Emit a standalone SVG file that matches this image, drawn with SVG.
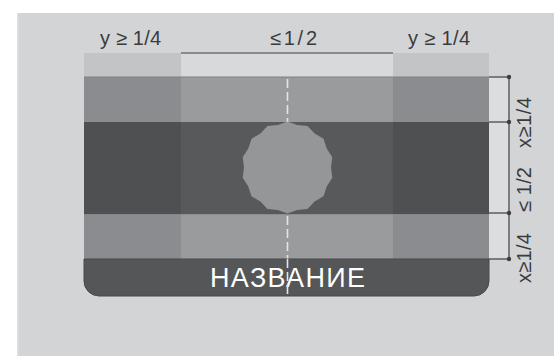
<svg xmlns="http://www.w3.org/2000/svg" width="554" height="356" viewBox="0 0 554 356">
<style>
.lbl{font-family:"Liberation Sans",Arial,sans-serif;font-size:20px;fill:#3a3b3d}
.ttl{font-family:"Liberation Sans",Arial,sans-serif;font-size:27px;fill:#ffffff}
.dim{stroke:#3d3e40;stroke-width:1.2;fill:none}
.dash{stroke:#e4e5e6;stroke-width:1.6;stroke-dasharray:9 4;fill:none}
</style>
<rect x="0" y="0" width="554" height="356" fill="#ffffff"/>
<rect x="17" y="13" width="537" height="343" fill="#d3d4d6"/>
<rect x="17" y="13" width="1.5" height="343" fill="#dedfe0"/>
<g id="sign">
  <rect x="84" y="53" width="97" height="24" fill="#c3c4c6"/>
  <rect x="181" y="53" width="212" height="24" fill="#d8d9db"/>
  <rect x="393" y="53" width="96" height="24" fill="#c3c4c6"/>
  <rect x="84" y="77" width="97" height="45" fill="#8b8c8f"/>
  <rect x="181" y="77" width="212" height="45" fill="#9a9b9d"/>
  <rect x="393" y="77" width="96" height="45" fill="#8b8c8f"/>
  <rect x="84" y="214" width="97" height="45" fill="#8b8c8f"/>
  <rect x="181" y="214" width="212" height="45" fill="#9a9b9d"/>
  <rect x="393" y="214" width="96" height="45" fill="#8b8c8f"/>
  <line x1="84" y1="77" x2="489" y2="77" stroke="#7f8287" stroke-width="1"/>
  <line x1="84" y1="214" x2="489" y2="214" stroke="#7f8287" stroke-width="1"/>
  <line class="dash" x1="287.5" y1="79" x2="287.5" y2="122"/>
  <line class="dash" x1="287.5" y1="216" x2="287.5" y2="296"/>
</g>
<g id="middle-band">
  <rect x="84" y="122" width="97" height="92" fill="#4f5052"/>
  <rect x="181" y="122" width="212" height="92" fill="#58595b"/>
  <rect x="393" y="122" width="96" height="92" fill="#4f5052"/>
</g>
<g id="emblem">
  <polygon fill="#959698" points="287.5,121.5 297.2,125.1 307.5,126.1 314.6,133.5 323.5,138.8 326.7,148.6 332.3,157.3 331,167.5 332.3,177.7 326.7,186.4 323.5,196.2 314.6,201.5 307.5,208.9 297.2,209.9 287.5,213.5 277.8,209.9 267.5,208.9 260.4,201.5 251.5,196.2 248.3,186.4 242.7,177.7 244,167.5 242.7,157.3 248.3,148.6 251.5,138.8 260.4,133.5 267.5,126.1 277.8,125.1"/>
</g>
<g id="title-bar">
  <path d="M84,259 H489 V281 A15,15 0 0 1 474,296 H99 A15,15 0 0 1 84,281 Z" fill="#555658" stroke="#47484a" stroke-width="1"/>
  <text class="ttl" x="210" y="287" textLength="155" lengthAdjust="spacing">НАЗВАНИЕ</text>
  <line class="dash" x1="287.5" y1="259" x2="287.5" y2="294"/>
</g>
<g id="connectors">
  <rect x="489" y="77" width="20" height="182" fill="#dcdddf"/>
  <line class="dim" x1="181" y1="53" x2="393" y2="53"/>
  <line class="dim" x1="509" y1="77" x2="509" y2="259"/>
  <line class="dim" x1="489" y1="77" x2="509" y2="77"/>
  <line class="dim" x1="489" y1="122" x2="509" y2="122"/>
  <line class="dim" x1="489" y1="213" x2="509" y2="213"/>
  <line class="dim" x1="489" y1="259" x2="509" y2="259"/>
  <circle cx="509" cy="77" r="2.2" fill="#3d3e40"/>
  <circle cx="509" cy="122" r="2.2" fill="#3d3e40"/>
  <circle cx="509" cy="213" r="2.2" fill="#3d3e40"/>
  <circle cx="509" cy="259" r="2.2" fill="#3d3e40"/>
</g>
<g id="labels">
  <text class="lbl" x="100" y="45" textLength="61" lengthAdjust="spacing">y ≥ 1/4</text>
  <text class="lbl" x="270" y="45" textLength="47" lengthAdjust="spacing">≤1/2</text>
  <text class="lbl" x="408" y="45" textLength="62" lengthAdjust="spacing">y ≥ 1/4</text>
  <text class="lbl" transform="translate(531,148) rotate(-90)" textLength="51" lengthAdjust="spacing">x≥1/4</text>
  <text class="lbl" transform="translate(531,212) rotate(-90)" textLength="45" lengthAdjust="spacing">≤ 1/2</text>
  <text class="lbl" transform="translate(531,283) rotate(-90)" textLength="50" lengthAdjust="spacing">x≥1/4</text>
</g>
</svg>
